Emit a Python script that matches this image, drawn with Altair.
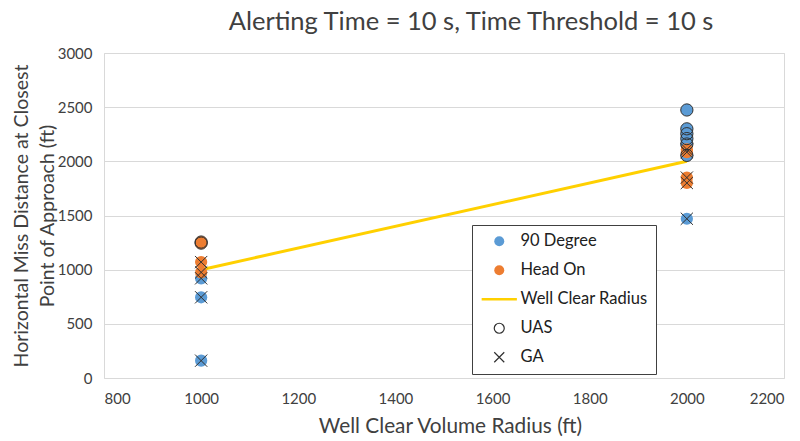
import altair as alt
import pandas as pd

# ---- data ----
x_90 = [1000, 1000, 1000, 2000, 2000, 2000, 2000, 2000, 2000, 2000]
y_90 = [920, 745, 160, 2474, 2300, 2255, 2210, 2160, 2055, 1470]
craft_90 = ["GA", "GA", "GA", "UAS", "UAS", "UAS", "UAS", "UAS", "UAS", "GA"]

x_ho = [1000, 1000, 1000, 1000, 2000, 2000, 2000, 2000]
y_ho = [1255, 1245, 1070, 975, 2110, 2085, 1850, 1800]
craft_ho = ["UAS", "UAS", "GA", "GA", "GA", "GA", "GA", "GA"]

wcr_x = [1000, 2000]
wcr_y = [1000, 2000]

x_ticks = [800, 1000, 1200, 1400, 1600, 1800, 2000, 2200]
y_ticks = [0, 500, 1000, 1500, 2000, 2500, 3000]

legend_names = ["90 Degree", "Head On", "Well Clear Radius", "UAS", "GA"]

# ---- tables ----
rows = []
for x, y in zip(x_90, y_90):
    rows.append({"radius": x, "miss": y, "series": "90 Degree"})
for x, y in zip(x_ho, y_ho):
    rows.append({"radius": x, "miss": y, "series": "Head On"})
for x, y, c in zip(x_90, y_90, craft_90):
    rows.append({"radius": x, "miss": y, "series": c})
for x, y, c in zip(x_ho, y_ho, craft_ho):
    rows.append({"radius": x, "miss": y, "series": c})
points = pd.DataFrame(rows)

line_df = pd.DataFrame({"radius": wcr_x, "miss": wcr_y,
                        "series": ["Well Clear Radius"] * len(wcr_x)})

BLUE = "#5B9BD5"
ORANGE = "#ED7D31"
GOLD = "#FFD000"
DARK = "#303030"

fill_scale = alt.Scale(domain=legend_names,
                       range=[BLUE, ORANGE, GOLD, "transparent", "transparent"])
stroke_scale = alt.Scale(domain=legend_names,
                         range=["transparent", "transparent", GOLD, DARK, DARK])
shape_scale = alt.Scale(domain=legend_names,
                        range=["circle", "circle",
                               "M-3.4,-0.15L3.4,-0.15L3.4,0.15L-3.4,0.15Z",
                               "circle", "M-1,-1L1,1M-1,1L1,-1"])

leg = alt.Legend(title=None)

xenc = alt.X("radius:Q", scale=alt.Scale(domain=[800, 2200], nice=False),
             axis=alt.Axis(values=x_ticks, title="Well Clear Volume Radius (ft)",
                           grid=False, format="d", titleX=346, titleFontSize=20.8))
yenc = alt.Y("miss:Q", scale=alt.Scale(domain=[0, 3000], nice=False),
             axis=alt.Axis(values=y_ticks,
                           title=["Horizontal Miss Distance at Closest",
                                  "Point of Approach (ft)"],
                           grid=True, format="d", titleLineHeight=26))

line = alt.Chart(line_df).mark_line(strokeWidth=3).encode(
    x=xenc, y=yenc,
    stroke=alt.Stroke("series:N", scale=stroke_scale, legend=leg),
)

pts = alt.Chart(points).mark_point(filled=True, size=150, strokeWidth=1, opacity=1).encode(
    x=xenc, y=yenc,
    fill=alt.Fill("series:N", scale=fill_scale, legend=leg),
    stroke=alt.Stroke("series:N", scale=stroke_scale, legend=leg),
    shape=alt.Shape("series:N", scale=shape_scale, legend=leg),
)

FONT = "Lato"
TXT = "#404040"

chart = alt.layer(line, pts).properties(
    width=680, height=325,
    title=alt.TitleParams("Alerting Time = 10 s, Time Threshold = 10 s",
                          fontSize=25.5, font=FONT, fontWeight="normal", color=TXT,
                          anchor="middle", offset=11, dx=27),
    autosize=alt.AutoSizeParams(type="none"),
    padding={"left": 104, "top": 53, "right": 16, "bottom": 63},
).configure_view(
    stroke="#D9D9D9", strokeWidth=1
).configure_axis(
    domain=False, ticks=False, gridColor="#D9D9D9", gridWidth=1,
    labelFont=FONT, labelFontSize=15, labelColor=TXT,
    titleFont=FONT, titleFontSize=19.5, titleFontWeight="normal", titleColor=TXT,
).configure_axisX(
    labelPadding=13, titlePadding=10,
).configure_axisY(
    labelPadding=12, titlePadding=0,
).configure_legend(
    orient="none", legendX=368, legendY=172,
    padding=8, rowPadding=12, symbolOffset=11, labelOffset=13,
    symbolSize=100, symbolStrokeWidth=1.2, symbolFillColor="transparent",
    labelFont=FONT, labelFontSize=16.5, labelColor="#202020",
    strokeColor="#404040", fillColor="white", cornerRadius=0,
)

chart.save("out.html", embed_options={"renderer": "svg", "actions": False})
